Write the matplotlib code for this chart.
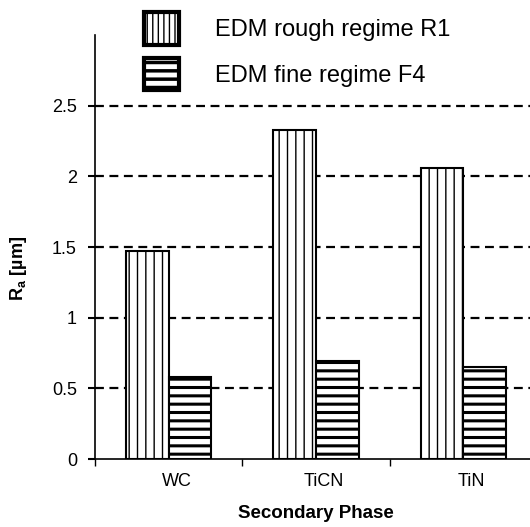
import numpy as np
import matplotlib
matplotlib.use("Agg")
import matplotlib.pyplot as plt
import matplotlib.transforms as mtransforms

phases = ["WC", "TiCN", "TiN"]
rough_r1 = [1.47, 2.33, 2.06]
fine_f4 = [0.58, 0.69, 0.65]
yticks = [0, 0.5, 1, 1.5, 2, 2.5]
ytick_labels = ["0", "0.5", "1", "1.5", "2", "2.5"]

plt.rcParams['font.family'] = ['Liberation Sans', 'DejaVu Sans']
plt.rcParams['hatch.linewidth'] = 1.0
plt.rcParams['hatch.color'] = 'black'

fig = plt.figure(figsize=(5.3, 5.27), dpi=100)
ax = fig.add_axes([95/530, 1 - 459/527, 442/530, (459 - 35)/527])

x = np.arange(len(phases))
w = 0.29
b1 = ax.bar(x - w/2, rough_r1, w, color='white', edgecolor='black', linewidth=1.5,
            hatch='||', label='EDM rough regime R1', zorder=3)
b2 = ax.bar(x + w/2, fine_f4, w, color='white', edgecolor='black', linewidth=1.5,
            hatch='--', label='EDM fine regime F4', zorder=3)
for p in b2:
    p.set_hatch_linewidth(2.2)

# dashed gridlines
for yv in yticks[1:]:
    ax.axhline(yv, color='black', linestyle=(0, (4, 2.5)), linewidth=1.6, zorder=1)

ax.set_xlim(-0.5, 2.5)
ax.set_ylim(0, 3.0)
ax.tick_params(axis='x', which='minor', length=0, pad=10, labelsize=13)
ax.tick_params(axis='x', which='major', length=5, width=1)
ax.tick_params(axis='y', length=5, width=1.5, direction='out', pad=8, labelsize=13)
ax.set_yticks(yticks)
ax.set_yticklabels(ytick_labels)
ax.set_xticks([-0.5, 0.5, 1.5, 2.5])
ax.set_xticklabels([])
ax.set_xticks(x, minor=True)
ax.set_xticklabels(phases, minor=True)
offset = mtransforms.ScaledTranslation(8/100, 0, fig.dpi_scale_trans)
for lab in ax.xaxis.get_minorticklabels():
    lab.set_transform(lab.get_transform() + offset)

for s in ['top', 'right']:
    ax.spines[s].set_visible(False)
ax.spines['left'].set_linewidth(1.2)
ax.spines['bottom'].set_linewidth(1.2)

ax.set_ylabel(r'R$_\mathregular{a}$ [µm]', fontsize=13, fontweight='bold')
ax.yaxis.set_label_coords(-66/442, (459 - 268)/424)
ax.set_xlabel('Secondary Phase', fontsize=13.5, fontweight='bold')
ax.xaxis.set_label_coords((316 - 95)/442, -46/424)

leg = fig.legend(handles=[b1, b2], loc='upper left', bbox_to_anchor=(144/530, 1 - 12/527),
                 frameon=False, fontsize=17, handlelength=1.5, handleheight=1.75,
                 handletextpad=1.5, labelspacing=0.55, borderpad=0, borderaxespad=0)
for p in leg.legend_handles:
    p.set_linewidth(3)
leg.legend_handles[0].set_hatch('|||')
leg.legend_handles[1].set_hatch_linewidth(2.5)

fig.savefig('out.png', dpi=100)
